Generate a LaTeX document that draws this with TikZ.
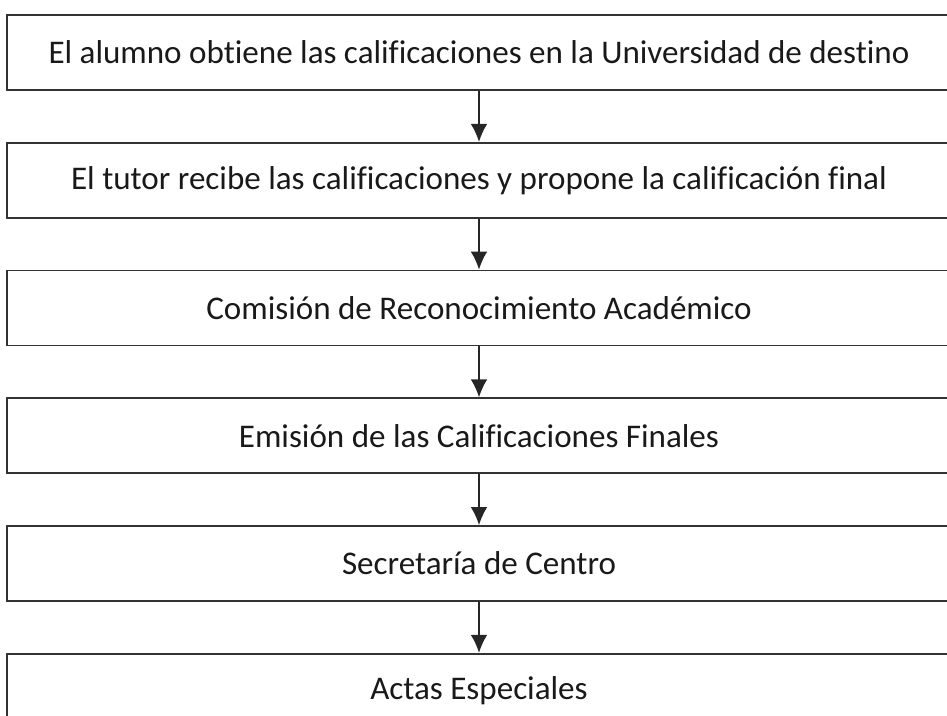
\documentclass[tikz,border=0pt]{standalone}
\usepackage{fontspec}
\setmainfont{Carlito}[Ligatures={NoCommon}]
\usetikzlibrary{arrows.meta, positioning}

\begin{document}
\begin{tikzpicture}[x=0.75pt, y=-0.75pt, >={Latex[length=13.5pt, width=12.5pt]},
    node distance=38.25pt,
    stepbox/.style={draw=black!80, line width=1.3pt, rectangle,
        minimum width=708pt, minimum height=56.25pt, inner sep=0pt,
        font=\fontsize{24.8}{29}\selectfont, text=black!90},
    flow/.style={->, line width=1.1pt, black!85}]
  % frame of the picture
  \useasboundingbox (0,0) rectangle (947,716);
  \clip (0,0) rectangle (947,716);

  % steps
  \node[stepbox] (alumno) at (479,52.5)
    {El alumno obtiene las calificaciones en la Universidad de destino};
  \node[stepbox, below=of alumno] (tutor)
    {El tutor recibe las calificaciones y propone la calificación final};
  \node[stepbox, below=of tutor] (comision)
    {Comisión de Reconocimiento Académico};
  \node[stepbox, below=of comision] (emision)
    {Emisión de las Calificaciones Finales};
  \node[stepbox, below=of emision] (secretaria)
    {Secretaría de Centro};
  \node[stepbox, below=of secretaria] (actas)
    {Actas Especiales};

  % connectors
  \draw[flow] (alumno) -- (tutor);
  \draw[flow] (tutor) -- (comision);
  \draw[flow] (comision) -- (emision);
  \draw[flow] (emision) -- (secretaria);
  \draw[flow] (secretaria) -- (actas);
\end{tikzpicture}
\end{document}
